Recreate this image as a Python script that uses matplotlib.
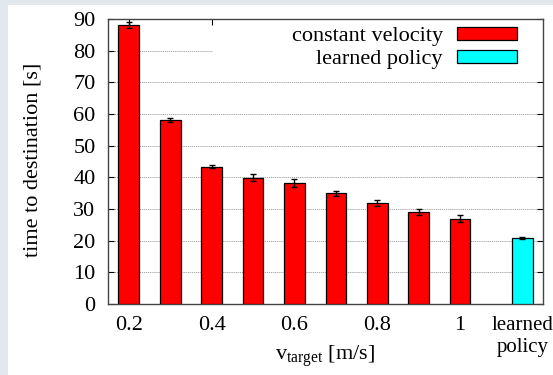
import numpy as np
import matplotlib.pyplot as plt
from matplotlib.patches import Rectangle

plt.rcParams['font.family'] = ['Liberation Serif', 'DejaVu Serif']
plt.rcParams['mathtext.fontset'] = 'custom'
plt.rcParams['mathtext.rm'] = 'Liberation Serif'

# data
v_target = [0.2, 0.3, 0.4, 0.5, 0.6, 0.7, 0.8, 0.9, 1.0]
t_const = [88.1, 58.1, 43.4, 39.9, 38.3, 34.9, 31.8, 29.0, 27.0]
err_const = [1.0, 0.5, 0.6, 1.0, 1.3, 0.9, 0.9, 1.0, 1.1]
t_learned = [20.9]
err_learned = [0.4]
learned_pos = [1.15]
xticks = [0.2, 0.4, 0.6, 0.8, 1.0, 1.15]
xticklabels = ['0.2', '0.4', '0.6', '0.8', '1', 'learned\npolicy']

fig = plt.figure(figsize=(5.53, 3.75), dpi=100, facecolor='#e3e8ec')
# white panel
fig.patches.append(Rectangle((8/553, 0), 1, 1 - 5/375, transform=fig.transFigure,
                             facecolor='white', edgecolor='none', zorder=-10))
ax = fig.add_axes([108/553, 1 - 304/375, (543-108)/553, (304-19)/375])

w = 0.05
ekw = dict(ecolor='black', elinewidth=1, capsize=2.5, capthick=1)
ax.bar(v_target, t_const, width=w, color='#ff0000', edgecolor='black', linewidth=0.9,
       yerr=err_const, error_kw=ekw, label='constant velocity', zorder=3)
ax.bar(learned_pos, t_learned, width=w, color='#00ffff', edgecolor='black', linewidth=0.9,
       yerr=err_learned, error_kw=ekw, label='learned policy', zorder=3)

ax.set_xlim(0.15, 1.2)
ax.set_ylim(0, 90)
ax.set_yticks(np.arange(0, 91, 10))
ax.set_xticks(xticks)
ax.set_xticklabels(xticklabels)
ax.tick_params(axis='both', direction='in', top=True, right=True, labelsize=16,
               length=4, width=0.8)
ax.tick_params(axis='x', pad=9)
ax.tick_params(axis='y', pad=9)
# last label sits against the right edge, shrink it a little so it fits
ax.get_xticklabels()[-1].set_fontsize(15)
ax.yaxis.grid(True, linestyle=(0, (1.5, 1)), color='#999999', linewidth=0.6)
ax.set_axisbelow(True)
for s in ax.spines.values():
    s.set_color('#444444')
    s.set_linewidth(1)

ax.set_ylabel('time to destination [s]', fontsize=16)
ax.yaxis.set_label_coords(-0.15, 0.505)
ax.set_xlabel(r'$\mathrm{v}_{\mathrm{target}}$ [m/s]', fontsize=16)
ax.xaxis.set_label_coords(0.5, -0.14)

# key box background (covers grid behind the key)
ax.add_patch(Rectangle((0.241, 0.835), 0.759, 0.165, transform=ax.transAxes,
                       facecolor='white', edgecolor='none', zorder=1))
leg = ax.legend(loc='upper right', bbox_to_anchor=(1 - 18/435, 1), markerfirst=False,
                fontsize=16, frameon=False, handlelength=2.7, handleheight=0.55,
                borderaxespad=0, labelspacing=0.15, borderpad=0.35, handletextpad=0.64)
leg.set_zorder(5)

fig.savefig('out.png', dpi=100, facecolor=fig.get_facecolor())
